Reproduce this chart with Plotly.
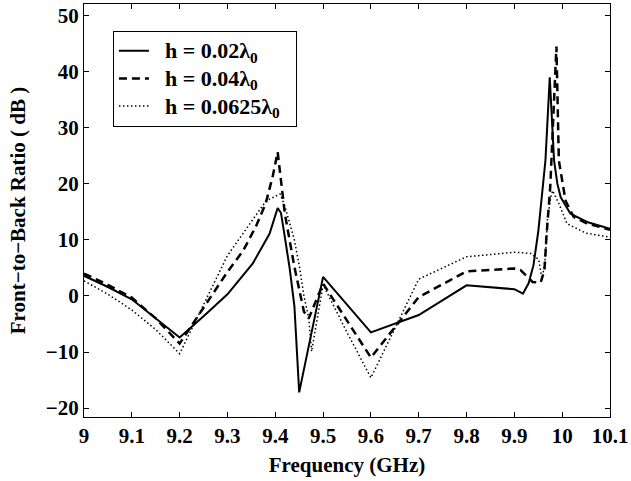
import plotly.graph_objects as go

# Front-to-back ratio versus frequency for three substrate heights
freq_h1 = [9.00, 9.05, 9.10, 9.15, 9.20, 9.25, 9.30, 9.353, 9.388, 9.405, 9.412,
           9.42, 9.43, 9.44, 9.45, 9.50, 9.60, 9.70, 9.80, 9.90, 9.918, 9.93,
           9.94, 9.95, 9.958, 9.965, 9.974, 9.983, 9.99, 9.997, 10.017, 10.052, 10.10]
fbr_h1 = [3.6, 1.6, -0.6, -4.0, -7.4, -3.6, 0.3, 5.8, 11.1, 15.7, 14.8,
          10.5, 5.0, -1.8, -17.2, 3.4, -6.5, -3.4, 1.9, 1.2, 0.4, 2.3,
          5.5, 11.5, 18.2, 24.2, 39.0, 24.2, 20.0, 17.6, 14.7, 13.2, 12.0]

freq_h2 = [9.00, 9.05, 9.10, 9.15, 9.20, 9.25, 9.30, 9.333, 9.36, 9.38, 9.395,
           9.405, 9.42, 9.44, 9.46, 9.47, 9.50, 9.60, 9.70, 9.80, 9.90, 9.913,
           9.938, 9.955, 9.963, 9.967, 9.975, 9.988, 9.993, 10.007, 10.024, 10.05, 10.10]
fbr_h2 = [4.0, 2.0, -0.3, -4.0, -8.5, -2.0, 4.3, 8.1, 12.5, 16.5, 21.5,
          25.7, 14.7, 5.2, -2.8, -4.0, 2.2, -11.0, -0.2, 4.4, 4.9, 4.6,
          2.5, 2.4, 4.6, 10.5, 19.4, 44.5, 24.2, 17.0, 14.1, 13.0, 11.8]

freq_h3 = [9.00, 9.05, 9.10, 9.15, 9.20, 9.25, 9.30, 9.347, 9.381, 9.41, 9.42,
           9.44, 9.45, 9.46, 9.47, 9.476, 9.50, 9.55, 9.60, 9.70, 9.80, 9.90,
           9.934, 9.951, 9.958, 9.965, 9.969, 9.976, 9.98, 9.993, 10.01, 10.05, 10.10]
fbr_h3 = [2.7, 0.3, -2.5, -6.0, -10.3, -1.5, 7.2, 12.9, 17.0, 18.2, 16.0,
          10.0, 5.5, 0.0, -4.0, -9.9, 2.0, -6.5, -14.6, 3.0, 7.0, 7.8,
          7.6, 6.5, 2.8, 7.0, 13.5, 17.6, 18.8, 16.5, 12.9, 11.2, 10.5]

labels = ["h = 0.02λ<sub>0</sub>", "h = 0.04λ<sub>0</sub>", "h = 0.0625λ<sub>0</sub>"]
pad = "\u00a0\u00a0"
names = [f'<span style="font-size:22px"><b>{pad}{t}{pad}</b></span>' for t in labels]

x_ticks = [9.0, 9.1, 9.2, 9.3, 9.4, 9.5, 9.6, 9.7, 9.8, 9.9, 10.0, 10.1]
x_labels = ["9", "9.1", "9.2", "9.3", "9.4", "9.5", "9.6", "9.7", "9.8", "9.9", "10", "10.1"]
y_ticks = [-20, -10, 0, 10, 20, 30, 40, 50]

serif = "Liberation Serif"

fig = go.Figure()
fig.add_trace(go.Scatter(x=freq_h1, y=fbr_h1, mode="lines", name=names[0],
                         line=dict(color="black", width=2, dash="solid")))
fig.add_trace(go.Scatter(x=freq_h2, y=fbr_h2, mode="lines", name=names[1],
                         line=dict(color="black", width=2.5, dash="8px,5px")))
fig.add_trace(go.Scatter(x=freq_h3, y=fbr_h3, mode="lines", name=names[2],
                         line=dict(color="black", width=1.5, dash="1.5px,2.5px")))

axis_common = dict(
    showline=True, linecolor="black", linewidth=1, mirror="allticks",
    ticks="inside", ticklen=5, tickwidth=1, tickcolor="black",
    showgrid=False, zeroline=False, ticklabeloverflow="allow",
    tickfont=dict(family=serif, size=21, color="black", weight="bold"),
)

fig.update_xaxes(range=[9.0, 10.1], tickvals=x_ticks, ticktext=x_labels,
                 title=dict(text="<b>Frequency (GHz)</b>", standoff=10,
                            font=dict(family=serif, size=21, color="black")),
                 **axis_common)
fig.update_yaxes(range=[-21.6, 52.1], tickvals=y_ticks,
                 title=dict(text="<b>Front−to−Back Ratio ( dB )</b>", standoff=14,
                            font=dict(family=serif, size=21, color="black")),
                 **axis_common)

fig.update_layout(
    width=631, height=481,
    margin=dict(l=84, r=17, t=3, b=64),
    paper_bgcolor="white", plot_bgcolor="white",
    showlegend=True,
    legend=dict(x=0.055, y=0.935, xanchor="left", yanchor="top",
                bordercolor="black", borderwidth=1, bgcolor="white",
                font=dict(family=serif, size=19, color="black"),
                itemwidth=30, tracegroupgap=0),
)

fig.write_html("out.html")
